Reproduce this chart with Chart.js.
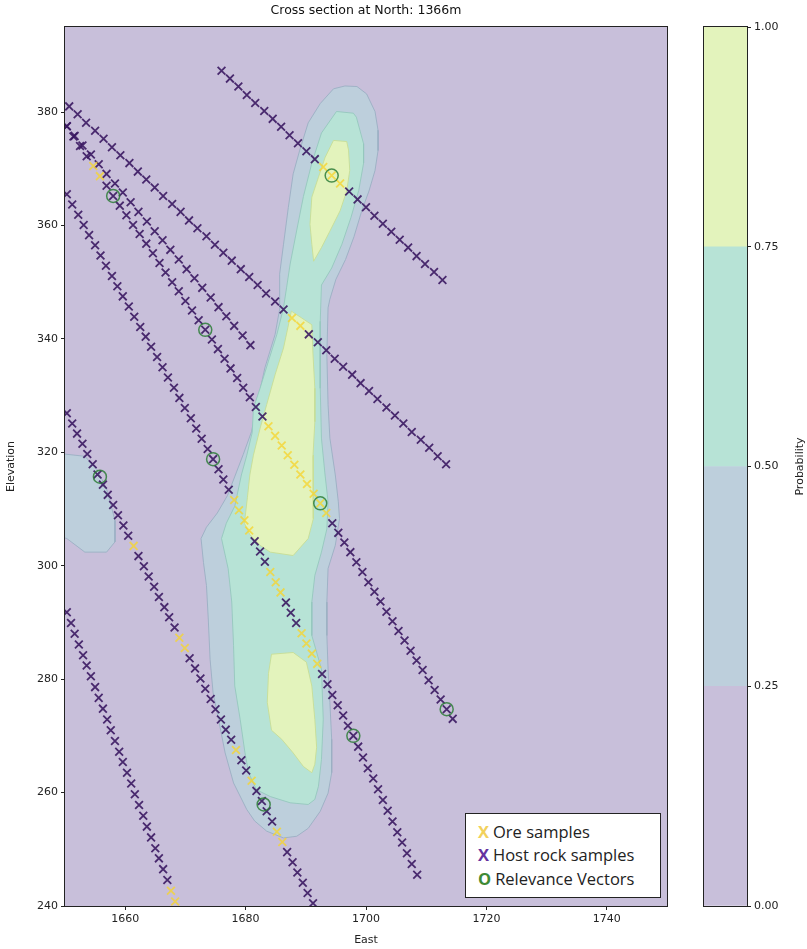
<!DOCTYPE html>
<html>
<head>
<meta charset="utf-8">
<script src="https://cdn.jsdelivr.net/npm/chart.js@4.4.1/dist/chart.umd.min.js"></script>
<style>
  html, body { margin: 0; padding: 0; background: #fff; }
  #wrap { position: relative; width: 807px; height: 949px; }
  #wrap canvas { position: absolute; left: 0; top: 0; }
  #legend {
    position: absolute; left: 465px; top: 813px; width: 196px; height: 85px;
    box-sizing: border-box; background: #fff; border: 1px solid #222;
    font-family: "Open Sans", Lato, sans-serif; font-size: 16.5px; color: #222;
    padding: 6px 0 0 12px; line-height: 23.3px; white-space: nowrap;
  }
  #legend b { font-weight: bold; margin-right: 4px; }
</style>
</head>
<body>
<div id="wrap">
  <canvas id="main" width="807" height="949"></canvas>
  <canvas id="cbar" width="807" height="949"></canvas>
  <div id="legend">
    <div><b style="color:#f2d15c">X</b>Ore samples</div>
    <div><b style="color:#6433a0">X</b>Host rock samples</div>
    <div><b style="color:#3f8a35">O</b>Relevance Vectors</div>
  </div>
</div>
<script>
// axes
const xTicks = [1660, 1680, 1700, 1720, 1740];
const yTicks = [240, 260, 280, 300, 320, 340, 360, 380];
const cbarTicks = [0, 0.25, 0.5, 0.75, 1.0];
const levelColors = ['#c8bfda', '#bdcfdc', '#b7e3d6', '#e3f3bc'];

// drill holes (east, elevation) + index of ore samples on each hole
const holeA_east = [1676.0,1677.4,1678.8,1680.2,1681.6,1683.1,1684.5,1685.9,1687.3,1688.7,1690.1,1691.5,1692.9,1694.3,1695.7,1697.2,1698.6,1700.0,1701.4,1702.8,1704.2,1705.6,1707.0,1708.4,1709.8,1711.3,1712.7];
const holeA_elev = [387.3,385.9,384.5,383.0,381.6,380.2,378.8,377.4,375.9,374.5,373.1,371.7,370.3,368.8,367.4,366.0,364.6,363.2,361.7,360.3,358.9,357.5,356.1,354.6,353.2,351.8,350.4];
const holeA_ore = [12, 13, 14];

const holeB_east = [1650.7,1652.1,1653.5,1655.0,1656.4,1657.8,1659.2,1660.7,1662.1,1663.5,1664.9,1666.3,1667.8,1669.2,1670.6,1672.0,1673.5,1674.9,1676.3,1677.7,1679.2,1680.6,1682.0,1683.4,1684.9,1686.3,1687.7,1689.1,1690.5,1692.0,1693.4,1694.8,1696.2,1697.7,1699.1,1700.5,1701.9,1703.4,1704.8,1706.2,1707.6,1709.1,1710.5,1711.9,1713.3];
const holeB_elev = [381.0,379.6,378.1,376.7,375.3,373.8,372.4,371.0,369.5,368.1,366.7,365.2,363.8,362.4,360.9,359.5,358.1,356.6,355.2,353.8,352.3,350.9,349.5,348.0,346.6,345.2,343.7,342.3,340.8,339.4,338.0,336.5,335.1,333.7,332.2,330.8,329.4,327.9,326.5,325.1,323.6,322.2,320.8,319.3,317.9];
const holeB_ore = [26, 27];

const holeC_east = [1650.3,1651.6,1652.9,1654.3,1655.6,1656.9,1658.3,1659.6,1660.9,1662.2,1663.6,1664.9,1666.2,1667.5,1668.9,1670.2,1671.5,1672.8,1674.2,1675.5,1676.8,1678.1,1679.5,1680.8];
const holeC_elev = [377.5,375.8,374.1,372.5,370.8,369.1,367.4,365.8,364.1,362.4,360.7,359.0,357.4,355.7,354.0,352.3,350.7,349.0,347.3,345.6,344.0,342.3,340.6,338.9];
const holeC_ore = [];

const holeE_east = [1650.3,1651.4,1652.5,1653.6,1654.7,1655.8,1656.9,1658.0,1659.1,1660.2,1661.3,1662.4,1663.5,1664.6,1665.7,1666.7,1667.8,1668.9,1670.0,1671.1,1672.2,1673.3,1674.4,1675.4,1676.5,1677.5,1678.6,1679.6,1680.7,1681.7,1682.8,1683.8,1684.9,1686.0,1687.0,1688.1,1689.1,1690.2,1691.3,1692.4,1693.4,1694.4,1695.4,1696.4,1697.4,1698.4,1699.4,1700.4,1701.4,1702.4,1703.4,1704.4,1705.4,1706.4,1707.4,1708.4,1709.4,1710.4,1711.4,1712.4,1713.4,1714.4];
const holeE_elev = [377.5,375.7,374.0,372.2,370.5,368.7,367.0,365.2,363.5,361.8,360.1,358.5,356.8,355.1,353.4,351.7,350.0,348.4,346.7,345.0,343.3,341.6,339.9,338.2,336.5,334.8,333.1,331.4,329.7,328.0,326.3,324.6,322.9,321.2,319.5,317.8,316.1,314.4,312.7,311.0,309.3,307.5,305.8,304.1,302.4,300.6,298.9,297.1,295.4,293.7,291.9,290.2,288.5,286.8,285.0,283.3,281.6,279.8,278.1,276.4,274.7,273.0];
const holeE_ore = [4, 5, 31, 32, 33, 34, 35, 36, 37, 38, 39, 40];

const holeH_east = [1650.3,1651.2,1652.2,1653.1,1654.0,1655.0,1655.9,1656.8,1657.8,1658.7,1659.6,1660.6,1661.5,1662.5,1663.4,1664.3,1665.3,1666.2,1667.1,1668.1,1669.0,1669.9,1670.9,1671.8,1672.7,1673.7,1674.6,1675.5,1676.3,1677.2,1678.1,1678.9,1679.8,1680.6,1681.5,1682.4,1683.2,1684.1,1685.0,1685.8,1686.7,1687.5,1688.4,1689.3,1690.1,1691.0,1691.9,1692.7,1693.6,1694.4,1695.3,1696.2,1697.0,1697.9,1698.7,1699.5,1700.3,1701.2,1702.0,1702.8,1703.6,1704.4,1705.2,1706.0,1706.8,1707.6,1708.5];
const holeH_elev = [365.5,363.7,361.9,360.1,358.3,356.5,354.7,352.9,351.1,349.3,347.5,345.7,343.9,342.1,340.4,338.6,336.8,335.0,333.2,331.4,329.6,327.8,326.0,324.2,322.4,320.6,318.8,317.0,315.2,313.4,311.6,309.8,308.0,306.2,304.3,302.5,300.7,298.9,297.1,295.3,293.5,291.7,289.9,288.1,286.3,284.5,282.7,280.9,279.1,277.2,275.4,273.6,271.8,270.0,268.1,266.2,264.3,262.5,260.6,258.7,256.8,254.9,253.0,251.2,249.3,247.4,245.5];
const holeH_ore = [30, 31, 32, 33, 37, 38, 39, 43, 44, 45, 46];

const holeF_east = [1650.3,1651.2,1652.0,1652.9,1653.7,1654.6,1655.4,1656.3,1657.1,1658.0,1658.8,1659.7,1660.5,1661.4,1662.2,1663.1,1663.9,1664.8,1665.6,1666.5,1667.3,1668.2,1669.0,1669.9,1670.7,1671.6,1672.5,1673.3,1674.2,1675.0,1675.9,1676.7,1677.6,1678.4,1679.3,1680.1,1681.0,1681.8,1682.7,1683.5,1684.4,1685.2,1686.1,1686.9,1687.8,1688.6,1689.5,1690.3,1691.2];
const holeF_elev = [326.9,325.1,323.3,321.5,319.7,317.9,316.1,314.3,312.5,310.7,308.9,307.1,305.3,303.5,301.7,299.9,298.1,296.3,294.5,292.7,290.9,289.1,287.3,285.5,283.7,281.9,280.1,278.3,276.5,274.7,272.9,271.1,269.3,267.5,265.7,263.9,262.1,260.3,258.5,256.7,254.9,253.1,251.3,249.5,247.7,245.9,244.1,242.3,240.5];
const holeF_ore = [13, 22, 23, 33, 36, 41, 42];

const holeG_east = [1650.3,1651.0,1651.6,1652.3,1653.0,1653.6,1654.3,1655.0,1655.6,1656.3,1657.0,1657.6,1658.3,1659.0,1659.6,1660.3,1661.0,1661.6,1662.3,1663.0,1663.6,1664.3,1665.0,1665.6,1666.3,1667.0,1667.6,1668.3];
const holeG_elev = [291.8,289.9,288.0,286.1,284.2,282.4,280.5,278.6,276.7,274.8,272.9,271.0,269.1,267.2,265.4,263.5,261.6,259.7,257.8,255.9,254.0,252.1,250.2,248.4,246.5,244.6,242.7,240.8];
const holeG_ore = [26, 27];

// relevance vectors
const rvEast = [1658.0, 1673.3, 1694.3, 1674.6, 1655.8, 1692.4, 1713.4, 1697.9, 1683.0];
const rvElev = [365.2, 341.6, 368.8, 318.8, 315.7, 311.0, 274.7, 270.0, 257.9];

// probability contours (filled bands)
const p25_east = [1694.6,1696.5,1698.5,1700.1,1701.5,1702.0,1702.0,1701.5,1700.5,1699.3,1698.0,1696.6,1695.0,1694.0,1693.7,1693.5,1693.7,1694.0,1694.9,1695.4,1695.6,1694.9,1693.7,1693.5,1693.5,1693.7,1694.0,1694.3,1694.3,1693.7,1692.4,1690.4,1688.5,1686.3,1683.5,1681.5,1680.2,1678.0,1676.6,1675.5,1674.6,1674.1,1673.8,1673.5,1673.0,1672.6,1673.5,1675.3,1677.0,1678.3,1679.6,1681.0,1681.8,1683.2,1684.9,1685.7,1685.6,1685.7,1686.3,1687.1,1687.9,1689.0,1690.4,1692.4];
const p25_elev = [384.1,384.6,384.5,383.2,380.1,376.8,373.2,369.7,366.1,362.6,358.0,354.0,350.5,347.0,345.5,337.2,328.4,322.5,316.0,311.3,308.3,303.6,299.5,293.6,287.7,281.8,275.9,269.4,263.5,259.9,256.7,253.7,252.3,252.0,253.2,255.0,257.0,261.7,267.0,272.9,277.6,283.5,290.6,296.5,300.6,304.8,306.8,309.3,312.4,316.0,319.6,323.7,328.0,334.9,340.8,345.5,348.0,351.4,356.7,363.2,369.1,373.3,378.1,381.5];
const p25b_east = [1649.0,1653.3,1655.3,1656.9,1658.3,1658.3,1656.9,1653.3,1650.3,1649.0];
const p25b_elev = [319.8,319.3,317.0,313.6,308.0,304.2,302.4,302.4,304.8,305.2];

const p50_east = [1695.1,1697.9,1698.4,1699.6,1699.6,1698.8,1697.5,1696.0,1694.3,1692.6,1692.4,1692.4,1692.6,1693.2,1693.7,1693.5,1692.6,1691.5,1691.0,1691.0,1692.0,1692.6,1692.9,1692.6,1692.1,1691.5,1690.4,1687.4,1684.1,1681.8,1680.5,1679.9,1679.1,1678.2,1678.0,1677.7,1677.1,1676.0,1676.8,1678.2,1679.3,1680.2,1681.1,1681.3,1682.4,1683.8,1685.2,1686.3,1686.8,1687.4,1688.5,1689.6,1691.0,1692.6];
const p50_elev = [380.1,379.8,379.1,374.4,371.0,366.2,361.4,356.7,352.5,349.5,343.1,331.3,322.5,316.0,311.3,306.5,302.4,298.3,293.6,287.7,284.0,281.8,272.9,265.8,261.1,258.8,257.9,258.2,259.3,260.5,263.5,267.0,272.9,278.8,285.9,293.6,299.5,304.8,307.5,310.5,316.0,319.5,323.5,327.8,331.3,336.1,340.8,345.5,349.0,353.2,359.2,365.1,371.0,376.3];

const p75a_east = [1694.6,1696.8,1697.1,1697.3,1696.8,1695.7,1694.0,1692.6,1691.3,1691.0,1690.7,1691.0,1692.1,1693.2];
const p75a_elev = [375.0,374.8,373.3,369.7,366.1,362.6,359.0,356.1,353.7,356.7,360.2,365.0,368.5,372.0];
const p75b_east = [1687.6,1691.0,1691.2,1691.5,1691.5,1691.2,1691.2,1691.3,1690.4,1687.9,1684.1,1682.4,1680.7,1679.8,1680.3,1680.7,1681.3,1682.4,1683.5,1684.9,1686.3];
const p75b_elev = [344.9,342.5,337.2,331.3,325.4,319.5,313.6,308.3,304.8,301.8,302.4,303.6,305.5,307.5,312.0,316.0,319.5,324.2,328.4,333.7,338.4];
const p75c_east = [1684.3,1687.9,1690.1,1691.0,1691.5,1691.8,1691.5,1691.0,1689.6,1687.9,1686.0,1684.3,1683.6,1683.8];
const p75c_elev = [284.4,284.7,283.0,278.8,272.9,268.0,265.0,263.5,264.6,267.0,269.4,271.0,275.9,281.0];

const toPts = (ex, ev) => ex.map((e, i) => ({x: e, y: ev[i]}));

const holes = [
    [holeA_east, holeA_elev, holeA_ore],
    [holeB_east, holeB_elev, holeB_ore],
    [holeC_east, holeC_elev, holeC_ore],
    [holeE_east, holeE_elev, holeE_ore],
    [holeH_east, holeH_elev, holeH_ore],
    [holeF_east, holeF_elev, holeF_ore],
    [holeG_east, holeG_elev, holeG_ore]
];
const hostPts = [];
const orePts = [];
holes.forEach(([ex, ev, ore]) => {
    ex.forEach((e, i) => {
        (ore.includes(i) ? orePts : hostPts).push({x: e, y: ev[i]});
    });
});

function band(ex, ev, fillColor, lineColor, order) {
    const pts = toPts(ex, ev);
    pts.push(pts[0]);
    return {
        type: 'line', data: pts, fill: 'shape', tension: 0,
        backgroundColor: fillColor, borderColor: lineColor, borderWidth: 1,
        pointRadius: 0, order: order, clip: 0
    };
}

const font = { family: '"DejaVu Sans", sans-serif', size: 11 };

// plot background + frame
const framePlugin = {
    id: 'frame',
    beforeDatasetsDraw(chart) {
        const {ctx, chartArea: a} = chart;
        ctx.save();
        ctx.fillStyle = levelColors[0];
        ctx.fillRect(a.left, a.top, a.width, a.height);
        ctx.restore();
    },
    afterDatasetsDraw(chart) {
        const {ctx, chartArea: a} = chart;
        ctx.save();
        ctx.strokeStyle = '#222';
        ctx.lineWidth = 1;
        ctx.strokeRect(a.left - 0.5, a.top - 0.5, a.width + 1, a.height + 1);
        ctx.restore();
    }
};

new Chart(document.getElementById('main'), {
    type: 'scatter',
    data: {
        datasets: [
            {
                label: 'Relevance Vectors', data: toPts(rvEast, rvElev),
                pointStyle: 'circle', pointRadius: 6.5, borderWidth: 1.5,
                borderColor: 'rgba(45,125,55,0.85)', backgroundColor: 'rgba(0,0,0,0)',
                order: 0, clip: 0
            },
            {
                label: 'Ore samples', data: orePts,
                pointStyle: 'crossRot', pointRadius: 5.5, borderWidth: 1.8,
                borderColor: 'rgba(245,212,50,0.8)', backgroundColor: 'rgba(245,212,50,0.8)',
                order: 1, clip: 0
            },
            {
                label: 'Host rock samples', data: hostPts,
                pointStyle: 'crossRot', pointRadius: 5.5, borderWidth: 1.8,
                borderColor: 'rgba(55,20,95,0.88)', backgroundColor: 'rgba(55,20,95,0.88)',
                order: 2, clip: 0
            },
            band(p75a_east, p75a_elev, levelColors[3], 'rgba(200,222,150,0.9)', 3),
            band(p75b_east, p75b_elev, levelColors[3], 'rgba(200,222,150,0.9)', 3),
            band(p75c_east, p75c_elev, levelColors[3], 'rgba(200,222,150,0.9)', 3),
            band(p50_east, p50_elev, levelColors[2], 'rgba(150,200,190,0.9)', 4),
            band(p25_east, p25_elev, levelColors[1], 'rgba(155,175,195,0.9)', 5),
            band(p25b_east, p25b_elev, levelColors[1], 'rgba(155,175,195,0.9)', 5)
        ]
    },
    options: {
        responsive: false,
        animation: false,
        devicePixelRatio: 1,
        events: [],
        layout: { padding: { left: 0, right: 140, top: 0, bottom: 0 } },
        plugins: {
            legend: { display: false },
            tooltip: { enabled: false },
            title: {
                display: true, text: 'Cross section at North: 1366m', fullSize: false,
                color: '#111', font: { family: '"DejaVu Sans", sans-serif', size: 12.5, weight: 'normal' },
                padding: { top: 3, bottom: 9 }
            }
        },
        scales: {
            x: {
                type: 'linear', min: 1650, max: 1750,
                afterBuildTicks: s => { s.ticks = xTicks.map(v => ({value: v})); },
                afterFit: s => { s.height = 43; },
                ticks: { font: font, color: '#222', padding: 3, maxRotation: 0, callback: v => String(v) },
                grid: { drawOnChartArea: false, tickLength: 4, color: '#222' },
                border: { display: false },
                title: { display: true, text: 'East', font: font, color: '#222', padding: { top: 0, bottom: 2 } }
            },
            y: {
                type: 'linear', min: 240, max: 395,
                afterBuildTicks: s => { s.ticks = yTicks.map(v => ({value: v})); },
                afterFit: s => { s.width = 65; },
                ticks: { font: font, color: '#222', padding: 3, callback: v => String(v) },
                grid: { drawOnChartArea: false, tickLength: 4, color: '#222' },
                border: { display: false },
                title: { display: true, text: 'Elevation', font: font, color: '#222', padding: { top: 5, bottom: 0 } }
            }
        }
    },
    plugins: [framePlugin]
});

// colour bar
const cbarPlugin = {
    id: 'cbarDecor',
    afterDatasetsDraw(chart) {
        const {ctx, chartArea: a} = chart;
        ctx.save();
        ctx.strokeStyle = '#222';
        ctx.lineWidth = 1;
        ctx.strokeRect(a.left - 0.5, a.top - 0.5, a.width + 1, a.height + 1);
        ctx.translate(800, (a.top + a.bottom) / 2);
        ctx.rotate(-Math.PI / 2);
        ctx.fillStyle = '#222';
        ctx.font = '11px "DejaVu Sans", sans-serif';
        ctx.textAlign = 'center';
        ctx.textBaseline = 'middle';
        ctx.fillText('Probability', 0, 0);
        ctx.restore();
    }
};

new Chart(document.getElementById('cbar'), {
    type: 'bar',
    data: {
        labels: [''],
        datasets: levelColors.map((c, i) => ({
            data: [cbarTicks[i + 1] - cbarTicks[i]],
            backgroundColor: c, borderWidth: 0,
            barPercentage: 1, categoryPercentage: 1
        }))
    },
    options: {
        responsive: false,
        animation: false,
        devicePixelRatio: 1,
        events: [],
        layout: { padding: { left: 704, right: 15, top: 27, bottom: 43 } },
        plugins: { legend: { display: false }, tooltip: { enabled: false } },
        scales: {
            x: { display: false, stacked: true },
            y: {
                stacked: true, position: 'right', min: 0, max: 1,
                afterBuildTicks: s => { s.ticks = cbarTicks.map(v => ({value: v})); },
                afterFit: s => { s.width = 45; },
                ticks: { font: font, color: '#222', padding: 3, callback: v => v.toFixed(2) },
                grid: { drawOnChartArea: false, tickLength: 4, color: '#222' },
                border: { display: false }
            }
        }
    },
    plugins: [cbarPlugin]
});
</script>
</body>
</html>
